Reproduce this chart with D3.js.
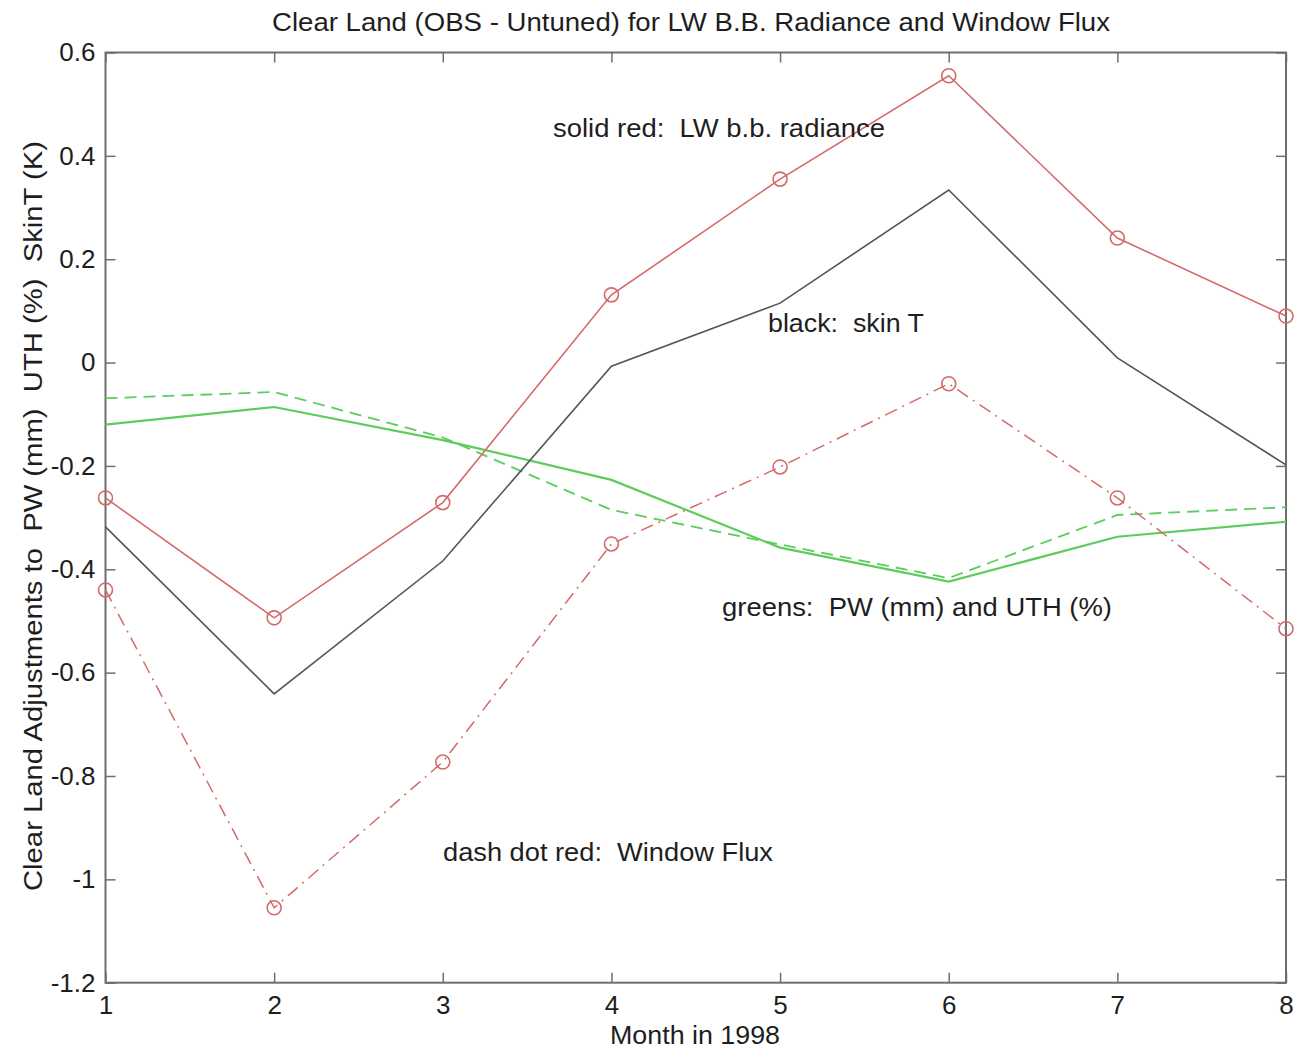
<!DOCTYPE html>
<html>
<head>
<meta charset="utf-8">
<script src="https://cdn.jsdelivr.net/npm/d3@7"></script>
<style>
  html, body { margin: 0; padding: 0; background: #fff; }
  svg { display: block; font-family: "Liberation Sans", Arial, sans-serif; }
</style>
</head>
<body>
<svg id="chart" width="1296" height="1052"></svg>
<script>
// Monthly clear-land adjustments, 1998
const months = [1, 2, 3, 4, 5, 6, 7, 8];
const lwRadiance = [-0.262, -0.494, -0.271, 0.131, 0.355, 0.555, 0.241, 0.090];
const skinT = [-0.318, -0.641, -0.384, -0.007, 0.115, 0.334, 0.009, -0.198];
const windowFlux = [-0.440, -1.055, -0.773, -0.351, -0.202, -0.041, -0.262, -0.515];
const pwSolid = [-0.120, -0.086, -0.150, -0.227, -0.358, -0.424, -0.337, -0.308];
const uthDashed = [-0.069, -0.057, -0.145, -0.285, -0.352, -0.417, -0.295, -0.280];
const yTicks = [0.6, 0.4, 0.2, 0, -0.2, -0.4, -0.6, -0.8, -1, -1.2];
const xTicks = months;

const svg = d3.select("#chart");
const plotLeft = 105.5, plotRight = 1286, plotTop = 52.5, plotBottom = 982.7;

const x = d3.scaleLinear().domain([1, 8]).range([plotLeft, plotRight]);
const y = d3.scaleLinear().domain([-1.2, 0.6]).range([plotBottom, plotTop]);

const axisColor = "#6e6e6e";
const textColor = "#1e1e1e";
const red = "#d46a6a";
const fontSize = "26px";

// frame
svg.append("rect")
  .attr("x", plotLeft).attr("y", plotTop)
  .attr("width", plotRight - plotLeft).attr("height", plotBottom - plotTop)
  .attr("fill", "none").attr("stroke", axisColor).attr("stroke-width", 2);

const fmt = d => d === 0 ? "0" : String(d);

// axes with inward ticks on all four sides
const bottomAxis = d3.axisBottom(x).tickValues(xTicks).tickSize(-10).tickPadding(13).tickFormat(d3.format("d"));
const topAxis = d3.axisTop(x).tickValues(xTicks).tickSize(-10).tickFormat("");
const leftAxis = d3.axisLeft(y).tickValues(yTicks).tickSize(-10).tickPadding(10).tickFormat(fmt);
const rightAxis = d3.axisRight(y).tickValues(yTicks).tickSize(-10).tickFormat("");

function styleAxis(g) {
  g.select(".domain").remove();
  g.selectAll(".tick line").attr("stroke", axisColor).attr("stroke-width", 1.5);
  g.selectAll(".tick text").attr("fill", textColor).style("font-size", fontSize)
    .style("font-family", "'Liberation Sans', Arial, sans-serif");
}
svg.append("g").attr("transform", `translate(0,${plotBottom})`).call(bottomAxis).call(styleAxis);
svg.append("g").attr("transform", `translate(0,${plotTop})`).call(topAxis).call(styleAxis);
svg.append("g").attr("transform", `translate(${plotLeft},0)`).call(leftAxis).call(styleAxis);
svg.append("g").attr("transform", `translate(${plotRight},0)`).call(rightAxis).call(styleAxis);

// plotted series
const line = d3.line().x((d, i) => x(months[i])).y(d => y(d));
const series = [
  { values: pwSolid, color: "#5ccc5c", width: 2.2, dash: null, markers: false },
  { values: uthDashed, color: "#5ccc5c", width: 1.8, dash: "12,7", markers: false },
  { values: skinT, color: "#555", width: 1.6, dash: null, markers: false },
  { values: windowFlux, color: red, width: 1.5, dash: "13,6,2,6", markers: true },
  { values: lwRadiance, color: red, width: 1.6, dash: null, markers: true }
];
series.forEach(s => {
  svg.append("path").datum(s.values)
    .attr("d", line).attr("fill", "none")
    .attr("stroke", s.color).attr("stroke-width", s.width)
    .attr("stroke-dasharray", s.dash);
  if (s.markers) {
    svg.append("g").selectAll("circle").data(s.values).join("circle")
      .attr("cx", (d, i) => x(months[i])).attr("cy", d => y(d))
      .attr("r", 7).attr("fill", "none")
      .attr("stroke", red).attr("stroke-width", 1.6);
  }
});

// title and axis labels
svg.append("text").attr("x", 691).attr("y", 31).attr("text-anchor", "middle")
  .style("font-size", "26px").attr("fill", textColor)
  .attr("textLength", 838).attr("lengthAdjust", "spacingAndGlyphs")
  .text("Clear Land (OBS - Untuned) for LW B.B. Radiance and Window Flux");
svg.append("text").attr("x", 695).attr("y", 1044).attr("text-anchor", "middle")
  .style("font-size", "25px").attr("fill", textColor)
  .attr("textLength", 170).attr("lengthAdjust", "spacingAndGlyphs")
  .text("Month in 1998");
svg.append("text").attr("transform", `translate(42,516) rotate(-90)`).attr("text-anchor", "middle")
  .style("font-size", fontSize).attr("fill", textColor).attr("xml:space", "preserve")
  .attr("textLength", 750).attr("lengthAdjust", "spacingAndGlyphs")
  .text("Clear Land Adjustments to  PW (mm)  UTH (%)  SkinT (K)");

// in-plot annotations
const notes = [
  { tx: 553, ty: 137, len: 332, text: "solid red:  LW b.b. radiance" },
  { tx: 768, ty: 332, len: 156, text: "black:  skin T" },
  { tx: 722, ty: 616, len: 390, text: "greens:  PW (mm) and UTH (%)" },
  { tx: 443, ty: 861, len: 330, text: "dash dot red:  Window Flux" }
];
svg.append("g").selectAll("text").data(notes).join("text")
  .attr("x", d => d.tx).attr("y", d => d.ty)
  .attr("xml:space", "preserve")
  .attr("textLength", d => d.len).attr("lengthAdjust", "spacingAndGlyphs")
  .style("font-size", fontSize).attr("fill", textColor)
  .text(d => d.text);
</script>
</body>
</html>
